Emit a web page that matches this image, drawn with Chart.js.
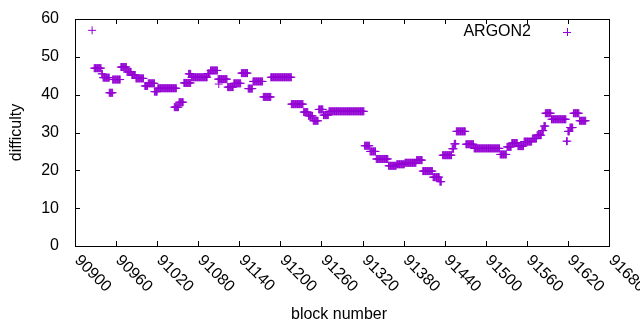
<!DOCTYPE html>
<html>
<head>
<meta charset="utf-8">
<script src="https://cdn.jsdelivr.net/npm/chart.js@4.4.1/dist/chart.umd.min.js"></script>
<style>
  html, body { margin: 0; padding: 0; background: #fff; }
  #wrap { width: 640px; height: 330px; }
</style>
</head>
<body>
<div id="wrap"><canvas id="difficultyChart"></canvas></div>
<script>
// tick labels
const xTicks = [90900, 90960, 91020, 91080, 91140, 91200, 91260, 91320, 91380, 91440, 91500, 91560, 91620, 91680];
const yTicks = [0, 10, 20, 30, 40, 50, 60];

// difficulty, as runs of blocks with the same value
const runStart = [90925, 90928, 90939, 90941, 90950, 90955, 90967, 90976, 90983, 90989, 91002, 91007, 91016, 91021,
  91045, 91052, 91059, 91066, 91070, 91094, 91098, 91110, 91109, 91123, 91132, 91143, 91153, 91160, 91175, 91186,
  91216, 91234, 91241, 91248, 91256, 91263, 91271, 91323, 91331, 91340, 91358, 91370, 91382, 91399, 91408, 91423,
  91433, 91437, 91451, 91454, 91457, 91471, 91483, 91521, 91531, 91538, 91547, 91556, 91568, 91575, 91582, 91585,
  91587, 91596, 91618, 91620, 91623, 91628, 91637];
const runEnd = [90925, 90938, 90940, 90950, 90955, 90966, 90975, 90982, 90988, 91000, 91006, 91016, 91020, 91048,
  91051, 91058, 91069, 91069, 91093, 91097, 91108, 91110, 91122, 91131, 91142, 91152, 91159, 91174, 91186, 91216,
  91233, 91240, 91247, 91255, 91262, 91270, 91322, 91330, 91339, 91357, 91369, 91381, 91398, 91407, 91422, 91432,
  91435, 91450, 91453, 91456, 91470, 91482, 91520, 91530, 91537, 91546, 91555, 91567, 91574, 91581, 91584, 91587,
  91595, 91617, 91619, 91622, 91627, 91636, 91646];
const runDifficulty = [57, 47, 45.5, 44.5, 40.5, 44, 47.3, 46, 45.2, 44.3, 42.3, 43, 40.8, 41.7,
  36.7, 38, 43.1, 45.5, 44.6, 45.6, 46.4, 42.8, 44.1, 42, 43, 45.7, 41.6, 43.5, 39.4, 44.6,
  37.5, 35.4, 34.4, 33.1, 36.1, 34.6, 35.6, 26.5, 25, 23, 21.2, 21.6, 22, 22.7, 19.8, 18.2,
  17, 24, 25.7, 27, 30.3, 26.9, 25.8, 24.2, 26.2, 27.2, 26.4, 27.6, 28.4, 29.3, 30.5, 31.7,
  35.1, 33.5, 27.7, 30.3, 31.3, 35.1, 33.1];

const seriesName = "ARGON2";
const purple = "#9400d3";
const font = "16px 'Liberation Sans', Arial, sans-serif";

function buildPoints() {
  const pts = [];
  for (let i = 0; i < runStart.length; i++) {
    for (let b = runStart[i]; b <= runEnd[i]; b++) {
      pts.push({ x: b, y: runDifficulty[i] });
    }
  }
  return pts;
}

// gnuplot style frame, inward ticks, rotated labels and key
const gnuplotFrame = {
  id: "gnuplotFrame",
  afterDraw(chart) {
    const ctx = chart.ctx;
    const area = chart.chartArea;
    const xs = chart.scales.x;
    const ys = chart.scales.y;
    ctx.save();
    ctx.strokeStyle = "#000";
    ctx.lineWidth = 1;
    ctx.strokeRect(Math.round(area.left) + 0.5, Math.round(area.top) + 0.5,
      Math.round(area.right - area.left), Math.round(area.bottom - area.top));

    ctx.beginPath();
    xTicks.forEach(function (t) {
      const px = Math.round(xs.getPixelForValue(t)) + 0.5;
      ctx.moveTo(px, area.bottom); ctx.lineTo(px, area.bottom - 5);
      ctx.moveTo(px, area.top); ctx.lineTo(px, area.top + 5);
    });
    yTicks.forEach(function (t) {
      const py = Math.round(ys.getPixelForValue(t)) + 0.5;
      ctx.moveTo(area.left, py); ctx.lineTo(area.left + 5, py);
      ctx.moveTo(area.right, py); ctx.lineTo(area.right - 5, py);
    });
    ctx.stroke();

    ctx.fillStyle = "#000";
    ctx.font = font;
    ctx.textAlign = "right";
    ctx.textBaseline = "middle";
    yTicks.forEach(function (t) {
      ctx.fillText(String(t), area.left - 16, ys.getPixelForValue(t));
    });

    ctx.textAlign = "left";
    xTicks.forEach(function (t) {
      ctx.save();
      ctx.translate(xs.getPixelForValue(t) + 2, area.bottom + 12);
      ctx.rotate(Math.PI / 4);
      ctx.fillText(String(t), 0, 0);
      ctx.restore();
    });

    // axis titles
    ctx.textAlign = "center";
    ctx.fillText("block number", (area.left + area.right) / 2 - 3, 315);
    ctx.save();
    ctx.translate(17, (area.top + area.bottom) / 2);
    ctx.rotate(-Math.PI / 2);
    ctx.fillText("difficulty", 0, 0);
    ctx.restore();

    // key
    ctx.textAlign = "right";
    ctx.fillText(seriesName, 531, 32);
    ctx.strokeStyle = purple;
    ctx.beginPath();
    ctx.moveTo(563, 32.5); ctx.lineTo(571, 32.5);
    ctx.moveTo(567.5, 28); ctx.lineTo(567.5, 36);
    ctx.stroke();
    ctx.restore();
  }
};

document.addEventListener("DOMContentLoaded", function () {
  const ctx = document.getElementById("difficultyChart").getContext("2d");
  new Chart(ctx, {
    type: "scatter",
    data: {
      datasets: [{
        label: seriesName,
        data: buildPoints(),
        pointStyle: "cross",
        pointRadius: 4,
        borderWidth: 1,
        borderColor: purple,
        backgroundColor: purple,
        showLine: false
      }]
    },
    options: {
      responsive: true,
      maintainAspectRatio: false,
      animation: false,
      layout: { padding: { left: 75, right: 31, top: 19, bottom: 84 } },
      plugins: { legend: { display: false }, tooltip: { enabled: false } },
      scales: {
        x: { type: "linear", min: 90900, max: 91680, display: false },
        y: { min: 0, max: 60, display: false }
      }
    },
    plugins: [gnuplotFrame]
  });
});
</script>
</body>
</html>
